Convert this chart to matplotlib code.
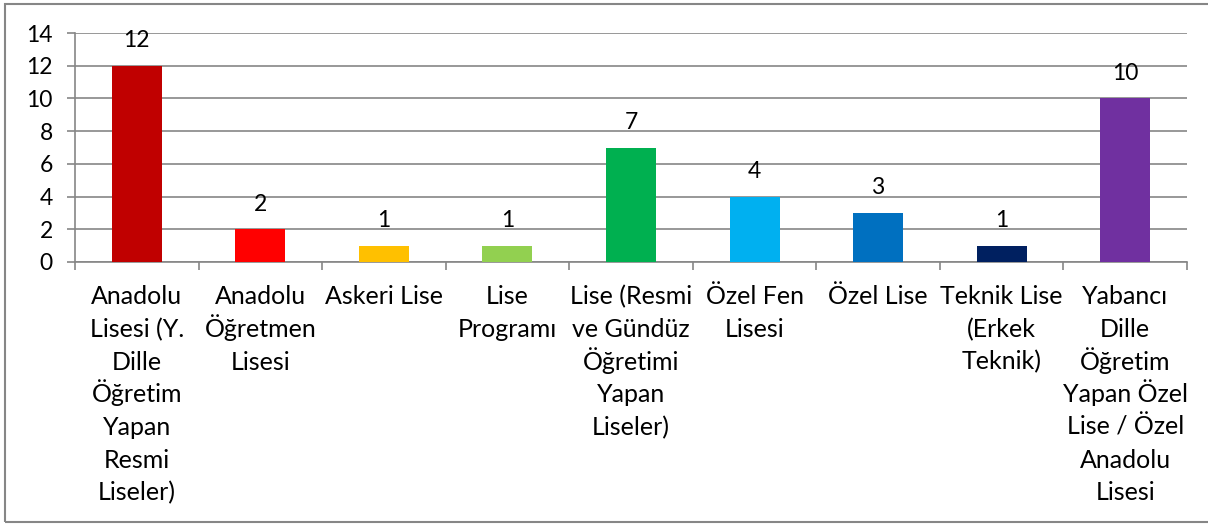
import matplotlib.pyplot as plt
from matplotlib.patches import Rectangle

kategoriler = [
    "Anadolu\nLisesi (Y.\nDille\nÖğretim\nYapan\nResmi\nLiseler)",
    "Anadolu\nÖğretmen\nLisesi",
    "Askeri Lise",
    "Lise\nProgramı",
    "Lise (Resmi\nve Gündüz\nÖğretimi\nYapan\nLiseler)",
    "Özel Fen\nLisesi",
    "Özel Lise",
    "Teknik Lise\n(Erkek\nTeknik)",
    "Yabancı\nDille\nÖğretim\nYapan Özel\nLise / Özel\nAnadolu\nLisesi",
]
degerler = [12, 2, 1, 1, 7, 4, 3, 1, 10]
renkler = ["#C00000", "#FF0000", "#FFC000", "#92D050", "#00B050",
           "#00B0F0", "#0070C0", "#002060", "#7030A0"]
y_ticks = [0, 2, 4, 6, 8, 10, 12, 14]

plt.rcParams["font.family"] = ["Lato", "DejaVu Sans"]

fig = plt.figure(figsize=(12.08, 5.24), dpi=100)
ax = fig.add_axes([75 / 1208, 1 - 262 / 524, (1187 - 75) / 1208, (262 - 33) / 524])

x = list(range(len(kategoriler)))
ax.bar(x, degerler, width=0.405, color=renkler, zorder=3)
for xi, v in zip(x, degerler):
    ax.annotate(str(v), (xi, v), xytext=(0, 13.5), textcoords="offset points",
                ha="center", va="baseline", fontsize=16.5, color="black")

ax.set_xlim(-0.5, len(kategoriler) - 0.5)
ax.set_ylim(0, 14)
ax.set_yticks(y_ticks)
ax.tick_params(axis="y", labelsize=16.5, length=6, color="#868686", width=1.2, pad=10)
ax.yaxis.grid(True, color="#868686", linewidth=1.2, zorder=0)

# etiketler satır satır, taban çizgileri eşit aralıklı
ax.set_xticks([])
for xi, etiket in zip(x, kategoriler):
    for j, satir in enumerate(etiket.split("\n")):
        ax.annotate(satir, (xi, 0), xycoords=("data", "axes fraction"),
                    xytext=(0, -30.5 - j * 23.5), textcoords="offset points",
                    ha="center", va="baseline", fontsize=18,
                    annotation_clip=False)
ax.set_xticks([i - 0.5 for i in range(len(kategoriler) + 1)], minor=True)
ax.tick_params(axis="x", which="minor", length=6, color="#868686", width=1.2)

for s in ["top", "right"]:
    ax.spines[s].set_visible(False)
for s in ["left", "bottom"]:
    ax.spines[s].set_color("#868686")
    ax.spines[s].set_linewidth(1.2)

fig.patches.append(Rectangle((5 / 1208, 2 / 524), 1.1, 518 / 524,
                             transform=fig.transFigure, fill=False,
                             edgecolor="#868686", linewidth=1.5))

fig.savefig("out.png", dpi=100)
